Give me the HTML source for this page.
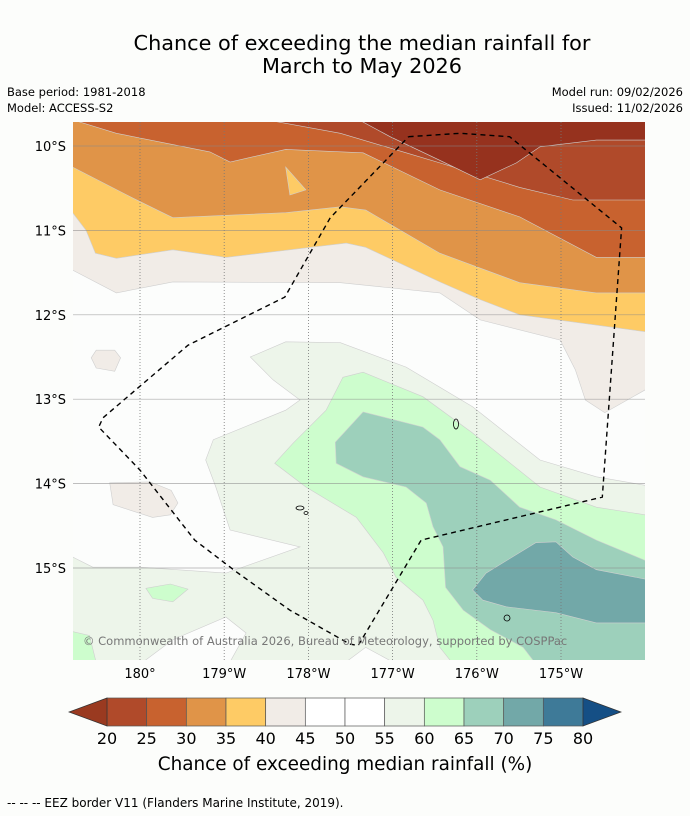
<!DOCTYPE html>
<html><head><meta charset="utf-8"><style>
html,body{margin:0;padding:0;background:#fcfdfb;}
svg{display:block;font-family:"DejaVu Sans","Liberation Sans",sans-serif;}
</style></head><body>
<svg id="chart" width="690" height="816" viewBox="0 0 690 816">
<rect width="690" height="816" fill="#fcfdfb"/>
<text x="362" y="50" text-anchor="middle" font-size="20.8" fill="#000">Chance of exceeding the median rainfall for</text>
<text x="362" y="73" text-anchor="middle" font-size="20.8" fill="#000">March to May 2026</text>
<text x="7" y="96" font-size="11.5">Base period: 1981-2018</text>
<text x="7" y="112" font-size="11.5">Model: ACCESS-S2</text>
<text x="683" y="96" font-size="11.5" text-anchor="end">Model run: 09/02/2026</text>
<text x="683" y="112" font-size="11.5" text-anchor="end">Issued: 11/02/2026</text>
<defs><clipPath id="mapclip"><rect x="73" y="122" width="572" height="538"/></clipPath></defs>
<g id="map" clip-path="url(#mapclip)">
<rect x="73" y="122" width="572" height="538" fill="#fcfdfc"/>
</g>
<g id="overlay"></g>
<g id="cbar"></g>
<text x="345" y="770" text-anchor="middle" font-size="18.4">Chance of exceeding median rainfall (%)</text>
<text x="7" y="807" font-size="12">--  --  -- EEZ border V11 (Flanders Marine Institute, 2019).</text>
</svg>
<script>
// Axis ticks
const lonTicks = [180, 181, 182, 183, 184, 185];
const lonTickLabels = ["180°", "179°W", "178°W", "177°W", "176°W", "175°W"];
const latTicks = [-10, -11, -12, -13, -14, -15];
const latTickLabels = ["10°S", "11°S", "12°S", "13°S", "14°S", "15°S"];
// Colorbar
const cbLevels = [20, 25, 30, 35, 40, 45, 50, 55, 60, 65, 70, 75, 80];
const cbColors = ["#b04a2a", "#c8622f", "#e09448", "#fecb65", "#f1ece7", "#ffffff", "#ffffff", "#edf5ea", "#cdfdcd", "#9dd0bb", "#72a8a8", "#3e7a98"];
// Contour boundaries (lon east, lat), filled toward the top edge
const line40 = [[179.20,-11.47],[179.72,-11.74],[180.39,-11.61],[182.38,-11.62],[183.56,-11.74],[184.04,-12.06],[184.99,-12.30],[185.17,-12.65],[185.29,-13.01],[185.52,-13.16],[186.00,-12.89]];
const line35 = [[179.20,-10.79],[179.36,-11.00],[179.47,-11.27],[179.72,-11.33],[180.39,-11.23],[181.02,-11.32],[182.45,-11.15],[182.68,-11.20],[183.56,-11.61],[184.04,-11.82],[184.51,-12.00],[186.00,-12.20]];
const line30 = [[179.20,-10.25],[179.92,-10.62],[180.39,-10.85],[181.73,-10.79],[182.38,-10.72],[182.68,-10.76],[183.56,-11.27],[184.51,-11.62],[185.42,-11.74],[186.00,-11.74]];
const line25 = [[179.20,-9.69],[179.72,-9.85],[180.83,-10.07],[181.07,-10.19],[181.73,-10.04],[182.65,-10.08],[183.56,-10.52],[184.51,-10.84],[185.42,-11.32],[186.00,-11.32]];
const line20 = [[181.50,-9.69],[182.38,-9.85],[183.16,-10.08],[183.56,-10.20],[184.51,-10.49],[185.14,-10.64],[186.00,-10.64]];
const line15 = [[182.60,-9.69],[182.97,-9.89],[183.56,-10.17],[184.04,-10.40],[184.47,-10.20],[184.75,-10.01],[185.42,-9.93],[186.00,-9.93]];
const yellowPatch = [[181.73,-10.25],[181.97,-10.52],[181.78,-10.58]];
// Closed regions
const region55 = [[179.20,-14.87],[179.44,-14.99],[180.00,-14.99],[181.02,-15.06],[181.90,-14.75],[181.07,-14.55],[180.90,-14.04],[180.78,-13.72],[180.87,-13.48],[181.73,-13.13],[181.90,-13.01],[181.58,-12.77],[181.31,-12.50],[181.73,-12.32],[182.38,-12.33],[183.16,-12.62],[183.95,-13.09],[184.75,-13.72],[185.42,-13.92],[186.00,-14.02],[186.1,-16.2],[179.1,-16.2],[179.1,-14.87]];
const whitePatch1 = [[179.92,-16.2],[180.39,-15.85],[181.02,-15.58],[181.26,-15.77],[181.02,-16.2]];
const whitePatch2 = [[182.33,-16.2],[182.68,-15.94],[183.16,-16.2]];
const region60 = [[181.60,-13.76],[181.82,-13.52],[182.21,-13.13],[182.41,-12.74],[182.65,-12.68],[183.36,-12.97],[183.95,-13.40],[184.75,-14.04],[185.42,-14.28],[186.00,-14.37],[186.1,-16.2],[183.68,-16.2],[183.68,-16.09],[183.56,-15.94],[183.48,-15.62],[183.36,-15.38],[183.04,-15.11],[182.89,-14.82],[182.57,-14.40],[181.97,-14.04]];
const greenPatch1 = [[180.07,-15.24],[180.36,-15.19],[180.57,-15.25],[180.39,-15.40],[180.15,-15.36]];
const greenPatch2 = [[179.1,-15.73],[179.40,-15.80],[179.50,-16.2],[179.1,-16.2]];
const region65 = [[182.32,-13.51],[182.65,-13.15],[183.36,-13.33],[183.56,-13.48],[183.80,-13.80],[184.16,-13.96],[184.51,-14.28],[184.94,-14.43],[185.42,-14.67],[186.00,-14.91],[186.1,-16.2],[184.75,-16.2],[184.55,-15.94],[184.16,-15.73],[183.84,-15.50],[183.63,-15.23],[183.60,-14.75],[183.48,-14.51],[183.40,-14.23],[183.16,-14.04],[182.65,-13.92],[182.33,-13.76]];
const region70 = [[183.95,-15.26],[184.11,-15.06],[184.70,-14.70],[184.94,-14.69],[185.14,-14.87],[185.42,-15.02],[186.1,-15.15],[186.1,-15.65],[185.42,-15.65],[184.94,-15.53],[184.35,-15.46],[184.07,-15.38]];
const beigePatch1 = [[179.42,-12.51],[179.48,-12.42],[179.70,-12.42],[179.77,-12.51],[179.70,-12.67],[179.48,-12.63]];
const beigePatch2 = [[179.64,-13.99],[180.12,-13.98],[180.37,-14.08],[180.45,-14.23],[180.36,-14.37],[180.15,-14.40],[179.68,-14.25]];
const eez = [[183.19,-9.89],[183.80,-9.85],[184.39,-9.89],[185.72,-10.97],[185.49,-14.16],[183.34,-14.67],[182.59,-15.92],[182.49,-15.90],[181.78,-15.50],[181.15,-15.05],[180.65,-14.67],[180.00,-13.84],[179.51,-13.33],[179.56,-13.22],[180.57,-12.36],[181.72,-11.79],[182.26,-10.85],[183.19,-9.89]];

const NS = "http://www.w3.org/2000/svg";
function xScale(lon){ return 140 + (lon - 180) * 84.2; }
function yScale(lat){ return 146 + (-10 - lat) * 84.4; }
function pts(arr){ return arr.map(p => xScale(p[0]).toFixed(1) + "," + yScale(p[1]).toFixed(1)).join(" "); }
const map = document.getElementById("map");
const overlay = document.getElementById("overlay");
function poly(parent, arr, fill, name){
  const el = document.createElementNS(NS, "polygon");
  el.setAttribute("points", pts(arr));
  el.setAttribute("fill", fill);
  el.setAttribute("stroke", "#cfcfcf");
  el.setAttribute("stroke-width", "0.6");
  
  
  parent.appendChild(el);
}
function band(line, fill, name){
  const arr = line.concat([[186.2,-9.4],[179.0,-9.4],[179.0, line[0][1]]]);
  poly(map, arr, fill, name);
}
band(line40, "#f1ece7", "band-40-45");
band(line35, "#fecb65", "band-35-40");
band(line30, "#e09448", "band-30-35");
poly(map, yellowPatch, "#fecb65", "band-35-40-patch");
band(line25, "#c8622f", "band-25-30");
band(line20, "#b04a2a", "band-20-25");
band(line15, "#96321e", "band-below-20");
poly(map, beigePatch1, "#f1ece7", "band-40-45-patch-1");
poly(map, beigePatch2, "#f1ece7", "band-40-45-patch-2");
poly(map, region55, "#edf5ea", "band-55-60");
poly(map, whitePatch1, "#fcfdfc", "band-50-55-patch-1");
poly(map, whitePatch2, "#fcfdfc", "band-50-55-patch-2");
poly(map, region60, "#cdfdcd", "band-60-65");
poly(map, greenPatch1, "#cdfdcd", "band-60-65-patch-1");
poly(map, greenPatch2, "#cdfdcd", "band-60-65-patch-2");
poly(map, region65, "#9dd0bb", "band-65-70");
poly(map, region70, "#72a8a8", "band-70-75");

// gridlines
lonTicks.forEach((lon, i) => {
  const l = document.createElementNS(NS, "line");
  l.setAttribute("x1", xScale(lon)); l.setAttribute("x2", xScale(lon));
  l.setAttribute("y1", 122); l.setAttribute("y2", 660);
  l.setAttribute("stroke", "#777"); l.setAttribute("stroke-width", "0.8"); l.setAttribute("stroke-dasharray", "1,2");
  
  
  map.appendChild(l);
  const t = document.createElementNS(NS, "text");
  t.setAttribute("x", xScale(lon)); t.setAttribute("y", 678);
  t.setAttribute("text-anchor", "middle"); t.setAttribute("font-size", "13");
  t.textContent = lonTickLabels[i];
  
  
  overlay.appendChild(t);
});
latTicks.forEach((lat, i) => {
  const l = document.createElementNS(NS, "line");
  l.setAttribute("x1", 73); l.setAttribute("x2", 645);
  l.setAttribute("y1", yScale(lat)); l.setAttribute("y2", yScale(lat));
  l.setAttribute("stroke", "#888"); l.setAttribute("stroke-width", "0.7"); l.setAttribute("opacity", "0.7");
  
  
  map.appendChild(l);
  const t = document.createElementNS(NS, "text");
  t.setAttribute("x", 66); t.setAttribute("y", yScale(lat) + 5);
  t.setAttribute("text-anchor", "end"); t.setAttribute("font-size", "13");
  t.textContent = latTickLabels[i];
  
  
  overlay.appendChild(t);
});

// islands
const isl = [[456,424,2.5,5],[300,508,4,2],[306,513,2,1.5],[507,618,3,3]];
isl.forEach(s => {
  const e = document.createElementNS(NS, "ellipse");
  e.setAttribute("cx", s[0]); e.setAttribute("cy", s[1]); e.setAttribute("rx", s[2]); e.setAttribute("ry", s[3]);
  e.setAttribute("fill", "none"); e.setAttribute("stroke", "#000"); e.setAttribute("stroke-width", "0.8");
  
  
  map.appendChild(e);
});

// EEZ border
const eezLine = document.createElementNS(NS, "polyline");
eezLine.setAttribute("points", pts(eez));
eezLine.setAttribute("fill", "none"); eezLine.setAttribute("stroke", "#000");
eezLine.setAttribute("stroke-width", "1.4"); eezLine.setAttribute("stroke-dasharray", "5,4");


map.appendChild(eezLine);

const cr = document.createElementNS(NS, "text");
cr.setAttribute("x", 83); cr.setAttribute("y", 645); cr.setAttribute("font-size", "11.5"); cr.setAttribute("fill", "#777");
cr.textContent = "© Commonwealth of Australia 2026, Bureau of Meteorology, supported by COSPPac";


overlay.appendChild(cr);

// colorbar
const cbar = document.getElementById("cbar");
const cx0 = 107, cx1 = 583, cy0 = 698, cy1 = 726;
const segW = (cx1 - cx0) / cbColors.length;
cbColors.forEach((c, i) => {
  const r = document.createElementNS(NS, "rect");
  r.setAttribute("x", cx0 + i * segW); r.setAttribute("y", cy0);
  r.setAttribute("width", segW); r.setAttribute("height", cy1 - cy0);
  r.setAttribute("fill", c); r.setAttribute("stroke", "#555"); r.setAttribute("stroke-width", "0.7");
  
  
  cbar.appendChild(r);
});
const triL = document.createElementNS(NS, "polygon");
triL.setAttribute("points", `${cx0},${cy0} 69,${(cy0+cy1)/2} ${cx0},${cy1}`);
triL.setAttribute("fill", "#9a3a20"); triL.setAttribute("stroke", "#333"); triL.setAttribute("stroke-width", "0.7");


cbar.appendChild(triL);
const triR = document.createElementNS(NS, "polygon");
triR.setAttribute("points", `${cx1},${cy0} 621,${(cy0+cy1)/2} ${cx1},${cy1}`);
triR.setAttribute("fill", "#154f85"); triR.setAttribute("stroke", "#333"); triR.setAttribute("stroke-width", "0.7");


cbar.appendChild(triR);
cbLevels.forEach((v, i) => {
  const t = document.createElementNS(NS, "text");
  t.setAttribute("x", cx0 + i * segW); t.setAttribute("y", 744);
  t.setAttribute("text-anchor", "middle"); t.setAttribute("font-size", "16");
  t.textContent = v;
  
  
  cbar.appendChild(t);
});
</script>
</body></html>
